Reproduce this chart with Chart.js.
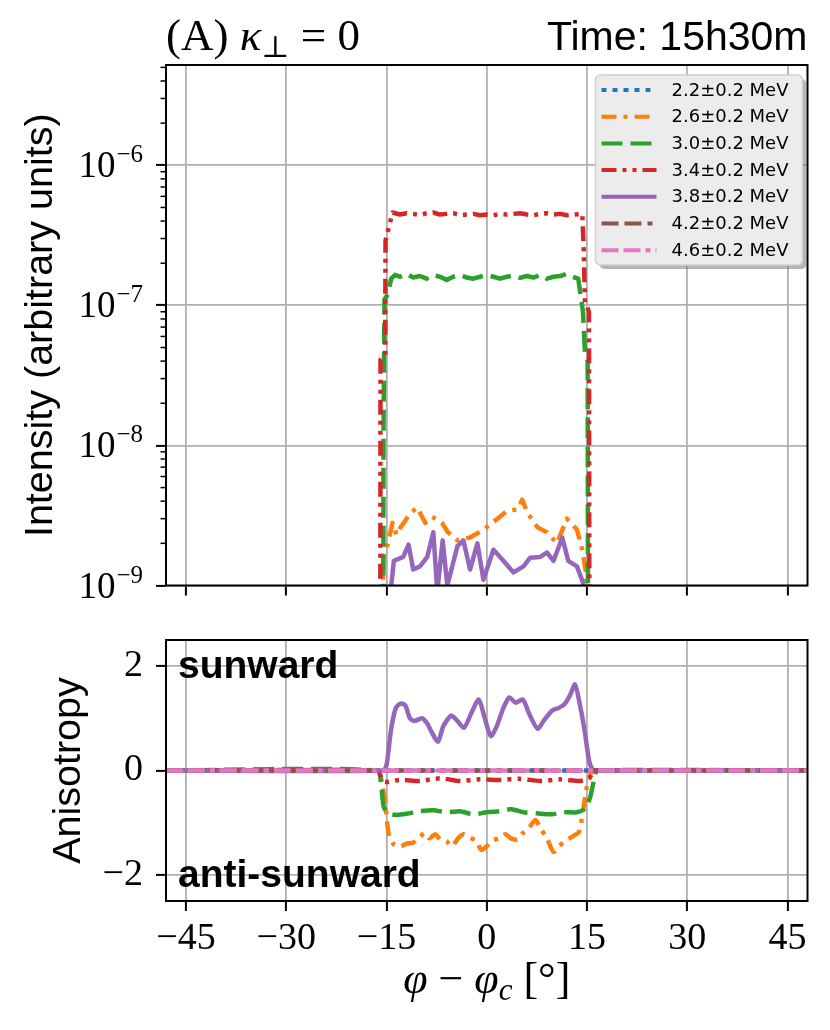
<!DOCTYPE html>
<html>
<head>
<meta charset="utf-8">
<script src="https://cdn.jsdelivr.net/npm/chart.js@4.4.1/dist/chart.umd.min.js"></script>
<style>
  html, body { margin: 0; padding: 0; background: #fff; }
  #wrap { position: relative; width: 830px; height: 1030px; }
  canvas { position: absolute; left: 0; }
  #top { top: 0; }
  #bottom { top: 600px; }
</style>
</head>
<body>
<div id="wrap">
  <canvas id="top" width="830" height="600"></canvas>
  <canvas id="bottom" width="830" height="430"></canvas>
</div>
<script>
// ---------------------------------------------------
// labels and ticks
const energyLabels = [ '2.2±0.2 MeV', '2.6±0.2 MeV', '3.0±0.2 MeV', '3.4±0.2 MeV', '3.8±0.2 MeV', '4.2±0.2 MeV', '4.6±0.2 MeV' ];
const phiTicks = [ -45, -30, -15, 0, 15, 30, 45 ];
const intensityTicks = [ 1e-9, 1e-8, 1e-7, 1e-6 ];
const intensityTickExps = [ '−9', '−8', '−7', '−6' ];
const minorMultipliers = [ 2, 3, 4, 5, 6, 7, 8, 9 ];
const anisoTicks = [ -2, 0, 2 ];

// ---------------------------------------------------
// top panel: intensity (only channels that rise above 1e-9)
const phiI26 = [ -15.7, -15.5, -14.8, -14.1, -13.5, -12.9, -12.2, -11.4, -10.4, -9.2, -8.2, -6.7, -5.8, -4.4, -2.5, -0.5, 1.6, 3.0, 4.6, 5.3, 6.1, 7.6, 9.0, 10.5, 12.0, 13.5, 14.3, 14.9, 15.1 ];
const intensity26 = [ 1e-11, 1.6e-9, 2.0e-9, 2.8e-9, 2.3e-9, 2.6e-9, 2.9e-9, 3.3e-9, 3.6e-9, 2.8e-9, 3.1e-9, 2.8e-9, 2.4e-9, 2.1e-9, 2.2e-9, 2.5e-9, 3.0e-9, 3.4e-9, 3.5e-9, 4.1e-9, 3.3e-9, 2.6e-9, 2.4e-9, 2.0e-9, 3.0e-9, 2.5e-9, 1.8e-9, 1.2e-9, 1e-11 ];

const phiI30 = [ -15.5, -15.45, -15.3, -14.8, -14.3, -13.7, -13, -12, -11, -10, -9, -8, -7, -6, -5, -4, -3, -2, -1, 0, 1, 2, 3, 4, 5, 6, 7, 8, 9, 10, 11, 12, 12.8, 13.7, 14.0, 14.4, 14.7, 15.1, 15.2 ];
const intensity30 = [ 1e-11, 1.3e-8, 1.1e-7, 1.2e-7, 1.55e-7, 1.65e-7, 1.6e-7, 1.68e-7, 1.58e-7, 1.62e-7, 1.55e-7, 1.65e-7, 1.6e-7, 1.52e-7, 1.6e-7, 1.65e-7, 1.58e-7, 1.55e-7, 1.6e-7, 1.65e-7, 1.6e-7, 1.55e-7, 1.6e-7, 1.63e-7, 1.57e-7, 1.62e-7, 1.58e-7, 1.65e-7, 1.55e-7, 1.6e-7, 1.62e-7, 1.68e-7, 1.6e-7, 1.55e-7, 1.22e-7, 9e-8, 4.6e-8, 4e-8, 1e-11 ];

const phiI34 = [ -15.95, -15.9, -15.2, -15.15, -14.1, -13, -12, -11, -10, -9, -8, -7, -6, -5, -4, -3, -2, -1, 0, 1, 2, 3, 4, 5, 6, 7, 8, 9, 10, 11, 12, 13, 14.3, 14.5, 14.7, 15.3, 15.4 ];
const intensity34 = [ 1e-11, 4.1e-8, 4.4e-8, 2.9e-7, 4.6e-7, 4.45e-7, 4.55e-7, 4.5e-7, 4.4e-7, 4.55e-7, 4.6e-7, 4.45e-7, 4.5e-7, 4.55e-7, 4.4e-7, 4.45e-7, 4.5e-7, 4.4e-7, 4.45e-7, 4.4e-7, 4.5e-7, 4.45e-7, 4.5e-7, 4.55e-7, 4.45e-7, 4.4e-7, 4.5e-7, 4.55e-7, 4.45e-7, 4.5e-7, 4.4e-7, 4.45e-7, 4.5e-7, 2.6e-7, 1.05e-7, 9e-8, 1e-11 ];

const phiI38 = [ -14.5, -13.9, -12.5, -11.7, -11.0, -10.0, -8.9, -8.0, -7.4, -6.6, -5.9, -4.4, -3.5, -2.5, -1.4, -0.5, 1.0, 2.5, 4.0, 5.5, 6.5, 8.0, 9.0, 10.0, 11.3, 12.2, 13.5, 14.4, 14.8 ];
const intensity38 = [ 8e-10, 1.5e-9, 1.6e-9, 1.96e-9, 1.3e-9, 1.37e-9, 1.6e-9, 2.4e-9, 9e-10, 2.1e-9, 1.0e-9, 1.9e-9, 2.1e-9, 1.3e-9, 2.0e-9, 1.1e-9, 1.8e-9, 1.5e-9, 1.24e-9, 1.37e-9, 1.58e-9, 1.6e-9, 1.72e-9, 1.5e-9, 2.2e-9, 1.5e-9, 1.37e-9, 1.05e-9, 7e-10 ];

// ---------------------------------------------------
// bottom panel: anisotropy
const phiAFlat = [ -48, 48 ];
const anisoFlat = [ 0, 0 ];

const phiA26 = [ -48, -16.3, -15.9, -15.2, -14.7, -13.9, -13, -12, -11, -10.2, -9.3, -8.6, -7.7, -7, -6, -5.2, -4.3, -3.5, -2.6, -1.6, -0.8, 0, 0.8, 1.8, 2.8, 3.6, 4.6, 5.4, 6.3, 7.3, 8, 9, 10, 10.8, 11.8, 13, 13.8, 14.5, 15, 15.6, 16, 48 ];
const aniso26 = [ 0, 0, -0.1, -0.6, -1.2, -1.42, -1.46, -1.4, -1.38, -1.3, -1.2, -1.3, -1.22, -1.32, -1.36, -1.45, -1.3, -1.22, -1.28, -1.35, -1.52, -1.45, -1.34, -1.3, -1.22, -1.3, -1.32, -1.2, -1.1, -0.95, -1.1, -1.3, -1.56, -1.45, -1.35, -1.25, -1.18, -0.7, -0.3, -0.05, 0, 0 ];

const phiA30 = [ -48, -16.4, -15.8, -15.4, -14.7, -13.5, -12, -10, -8, -6, -4, -2, 0, 2, 3.7, 5.5, 7.5, 9.7, 11.5, 13.5, 14.8, 15.5, 16.2, 16.6, 48 ];
const aniso30 = [ 0, 0, -0.3, -0.7, -0.82, -0.85, -0.83, -0.78, -0.76, -0.8, -0.78, -0.84, -0.8, -0.78, -0.74, -0.8, -0.82, -0.84, -0.8, -0.8, -0.72, -0.5, -0.1, 0, 0 ];

const phiA34 = [ -48, -16.3, -15.9, -15.3, -13, -10, -7, -4, -1, 2, 5, 8, 11, 14, 15.3, 15.8, 16.2, 48 ];
const aniso34 = [ 0, 0, -0.1, -0.22, -0.18, -0.2, -0.15, -0.2, -0.17, -0.18, -0.16, -0.2, -0.17, -0.2, -0.15, -0.05, 0, 0 ];

const phiA38 = [ -48, -15.5, -15, -14.3, -13.6, -12.9, -12.2, -11.5, -10.8, -9.7, -8.9, -8.3, -7.3, -6.5, -5.3, -4.4, -3.4, -2.3, -1.2, -0.4, 0.6, 1.5, 2.5, 3.4, 4.3, 5.4, 6.3, 7.6, 8.5, 9.8, 10.8, 11.7, 12.5, 13.2, 13.8, 14.6, 15.3, 15.8, 16.2, 48 ];
const aniso38 = [ 0, 0, 0.1, 0.8, 1.2, 1.28, 1.25, 1.0, 0.95, 1.0, 0.9, 0.75, 0.55, 0.85, 1.05, 0.95, 0.82, 1.1, 1.36, 1.05, 0.66, 0.85, 1.2, 1.4, 1.3, 1.36, 1.1, 0.8, 0.95, 1.15, 1.2, 1.28, 1.45, 1.65, 1.35, 0.8, 0.2, 0.02, 0, 0 ];

// ---------------------------------------------------
// styles
const seriesColors = [ '#1f77b4', '#ff7f0e', '#2ca02c', '#d62728', '#9467bd', '#8c564b', '#e377c2' ];
const seriesDashes = [ [ 5, 6 ], [ 15, 7, 4, 7 ], [ 21, 8 ], [ 15, 6, 4, 6, 4, 6 ], [], [ 17, 6, 17, 6, 5, 6 ], [ 17, 5, 17, 5, 5, 5 ] ];
const LW = 4.5;
const GRID = '#b0b0b0';
const SERIF = '"Liberation Serif", "DejaVu Serif", serif';
const SANS = '"Liberation Sans", "DejaVu Sans", sans-serif';

const pts = ( xs, ys ) => xs.map( ( x, i ) => ( { x: x, y: ys[ i ] } ) );

function makeDatasets( series ) {
    return series.map( ( s, i ) => ( {
        label: energyLabels[ i ],
        data: pts( s[ 0 ], s[ 1 ] ),
        borderColor: seriesColors[ i ],
        backgroundColor: seriesColors[ i ],
        borderDash: seriesDashes[ i ],
        borderWidth: LW,
        borderCapStyle: 'butt',
        borderJoinStyle: 'round',
        pointRadius: 0,
        fill: false,
        order: 7 - i
    } ) );
}

const topSeries = [
    [ [], [] ],
    [ phiI26, intensity26 ],
    [ phiI30, intensity30 ],
    [ phiI34, intensity34 ],
    [ phiI38, intensity38 ],
    [ [], [] ],
    [ [], [] ]
];
const bottomSeries = [
    [ phiAFlat, anisoFlat ],
    [ phiA26, aniso26 ],
    [ phiA30, aniso30 ],
    [ phiA34, aniso34 ],
    [ phiA38, aniso38 ],
    [ phiAFlat, anisoFlat ],
    [ phiAFlat, anisoFlat ]
];

// ---------------------------------------------------
// drawing helpers
function drawFrame( chart ) {
    const a = chart.chartArea, ctx = chart.ctx;
    ctx.save();
    ctx.strokeStyle = '#000';
    ctx.lineWidth = 2;
    ctx.strokeRect( a.left, a.top, a.right - a.left, a.bottom - a.top );
    ctx.restore();
}

function drawYTitle( chart, text, baseX ) {
    const a = chart.chartArea, ctx = chart.ctx;
    ctx.save();
    ctx.translate( baseX, ( a.top + a.bottom ) / 2 );
    ctx.rotate( -Math.PI / 2 );
    ctx.font = '39.5px ' + SANS;
    ctx.fillStyle = '#000';
    ctx.textAlign = 'center';
    ctx.textBaseline = 'alphabetic';
    ctx.fillText( text, 0, 0 );
    ctx.restore();
}

function roundRect( ctx, x, y, w, h, r ) {
    ctx.beginPath();
    ctx.moveTo( x + r, y );
    ctx.arcTo( x + w, y, x + w, y + h, r );
    ctx.arcTo( x + w, y + h, x, y + h, r );
    ctx.arcTo( x, y + h, x, y, r );
    ctx.arcTo( x, y, x + w, y, r );
    ctx.closePath();
}

function drawLegend( chart ) {
    const a = chart.chartArea, ctx = chart.ctx;
    const w = 207, h = 190;
    const x = a.right - 212, y = a.top + 10;
    ctx.save();
    roundRect( ctx, x + 4, y + 4, w, h, 5 );
    ctx.fillStyle = 'rgba(120,120,120,0.55)';
    ctx.fill();
    roundRect( ctx, x, y, w, h, 5 );
    ctx.fillStyle = '#ececec';
    ctx.fill();
    ctx.strokeStyle = '#d0d0d0';
    ctx.lineWidth = 1.5;
    ctx.stroke();
    chart.data.datasets.forEach( ( ds, i ) => {
        const ry = y + 15 + i * 26.7;
        ctx.beginPath();
        ctx.setLineDash( ds.borderDash );
        ctx.lineCap = 'butt';
        ctx.strokeStyle = ds.borderColor;
        ctx.lineWidth = 4;
        ctx.moveTo( x + 6, ry );
        ctx.lineTo( x + 61, ry );
        ctx.stroke();
        ctx.setLineDash( [] );
        ctx.font = '18px "DejaVu Sans", sans-serif';
        ctx.fillStyle = '#000';
        ctx.textBaseline = 'middle';
        ctx.fillText( ds.label, x + 76, ry + 1 );
    } );
    ctx.restore();
}

// ---------------------------------------------------
const topDecor = {
    id: 'topDecor',
    afterDraw( chart ) {
        const ctx = chart.ctx, a = chart.chartArea, ys = chart.scales.y;
        drawFrame( chart );
        // minor ticks of the log axis
        ctx.save();
        ctx.strokeStyle = '#000';
        ctx.lineWidth = 1.5;
        intensityTicks.forEach( ( d ) => {
            minorMultipliers.forEach( ( m ) => {
                const v = d * m;
                if ( v > ys.max ) return;
                const py = ys.getPixelForValue( v );
                ctx.beginPath();
                ctx.moveTo( a.left - 5.5, py );
                ctx.lineTo( a.left, py );
                ctx.stroke();
            } );
        } );
        // tick labels 10^n
        ctx.fillStyle = '#000';
        ctx.textAlign = 'right';
        ctx.textBaseline = 'alphabetic';
        intensityTicks.forEach( ( v, i ) => {
            const py = ys.getPixelForValue( v );
            const right = a.left - 23;
            ctx.font = '25px ' + SERIF;
            const ew = ctx.measureText( intensityTickExps[ i ] ).width;
            ctx.fillText( intensityTickExps[ i ], right, py - 3 );
            ctx.font = '37px ' + SERIF;
            ctx.fillText( '10', right - ew - 1, py + 12 );
        } );
        ctx.restore();
        drawYTitle( chart, 'Intensity (arbitrary units)', 52 );
        // panel title
        ctx.save();
        ctx.fillStyle = '#000';
        ctx.textBaseline = 'alphabetic';
        ctx.textAlign = 'left';
        let tx = a.left;
        ctx.font = '45px ' + SERIF;
        ctx.fillText( '(A) ', tx, 50 );
        tx += ctx.measureText( '(A) ' ).width;
        ctx.font = 'italic 45px ' + SERIF;
        ctx.fillText( 'κ', tx, 50 );
        tx += ctx.measureText( 'κ' ).width;
        ctx.font = '30px "DejaVu Serif", serif';
        ctx.fillText( '⊥', tx, 57 );
        tx += ctx.measureText( '⊥' ).width;
        ctx.font = '45px ' + SERIF;
        ctx.fillText( ' = 0', tx, 50 );
        ctx.font = '41px ' + SANS;
        ctx.textAlign = 'right';
        ctx.fillText( 'Time: 15h30m', a.right, 50 );
        ctx.restore();
        drawLegend( chart );
    }
};

const bottomDecor = {
    id: 'bottomDecor',
    afterDraw( chart ) {
        const ctx = chart.ctx, a = chart.chartArea;
        drawFrame( chart );
        drawYTitle( chart, 'Anisotropy', 80 );
        ctx.save();
        ctx.fillStyle = '#000';
        ctx.font = 'bold 39px ' + SANS;
        ctx.textAlign = 'left';
        ctx.textBaseline = 'alphabetic';
        ctx.fillText( 'sunward', a.left + 12, a.top + 38 );
        ctx.fillText( 'anti-sunward', a.left + 12, a.bottom - 14 );
        // x axis title: phi - phi_c [deg]
        const parts = [
            [ 'φ', 'italic 44px ' + SERIF, 0 ],
            [ ' − ', '44px ' + SERIF, 0 ],
            [ 'φ', 'italic 44px ' + SERIF, 0 ],
            [ 'c', 'italic 31px ' + SERIF, 7 ],
            [ ' [°]', '44px ' + SERIF, 0 ]
        ];
        let total = 0;
        parts.forEach( ( p ) => { ctx.font = p[ 1 ]; total += ctx.measureText( p[ 0 ] ).width; } );
        let tx = ( a.left + a.right ) / 2 - total / 2;
        const by = 393;
        parts.forEach( ( p ) => {
            ctx.font = p[ 1 ];
            ctx.fillText( p[ 0 ], tx, by + p[ 2 ] );
            tx += ctx.measureText( p[ 0 ] ).width;
        } );
        ctx.restore();
    }
};

// ---------------------------------------------------
const gridOpts = {
    color: GRID,
    lineWidth: 1.8,
    drawTicks: true,
    tickLength: 10,
    tickColor: '#000',
    tickWidth: 2
};

window.addEventListener( 'load', function () {
    Chart.defaults.font.family = SERIF;
    Chart.defaults.color = '#000';

    new Chart( document.getElementById( 'top' ), {
        type: 'line',
        data: { datasets: makeDatasets( topSeries ) },
        options: {
            responsive: false,
            animation: false,
            layout: { padding: { top: 65, right: 22.5, left: 0, bottom: 0 } },
            plugins: { legend: { display: false }, tooltip: { enabled: false } },
            scales: {
                x: {
                    type: 'linear', min: -48, max: 48,
                    afterBuildTicks: ( s ) => { s.ticks = phiTicks.map( ( v ) => ( { value: v } ) ); },
                    afterFit: ( s ) => { s.height = 14.5; },
                    ticks: { display: false },
                    grid: gridOpts,
                    border: { display: false }
                },
                y: {
                    type: 'logarithmic', min: 1e-9, max: 5.2e-6,
                    afterBuildTicks: ( s ) => { s.ticks = intensityTicks.map( ( v ) => ( { value: v } ) ); },
                    afterFit: ( s ) => { s.width = 166; },
                    ticks: { display: false },
                    grid: gridOpts,
                    border: { display: false }
                }
            }
        },
        plugins: [ topDecor ]
    } );

    new Chart( document.getElementById( 'bottom' ), {
        type: 'line',
        data: { datasets: makeDatasets( bottomSeries ) },
        options: {
            responsive: false,
            animation: false,
            elements: { line: { tension: 0.25 } },
            layout: { padding: { top: 40, right: 22.5, left: 0, bottom: 0 } },
            plugins: { legend: { display: false }, tooltip: { enabled: false } },
            scales: {
                x: {
                    type: 'linear', min: -48, max: 48,
                    afterBuildTicks: ( s ) => { s.ticks = phiTicks.map( ( v ) => ( { value: v } ) ); },
                    afterFit: ( s ) => { s.height = 129; },
                    ticks: {
                        font: { size: 38, family: SERIF },
                        padding: 5,
                        maxRotation: 0,
                        autoSkip: false,
                        callback: ( v ) => String( v ).replace( '-', '−' )
                    },
                    grid: gridOpts,
                    border: { display: false }
                },
                y: {
                    type: 'linear', min: -2.5, max: 2.5,
                    afterBuildTicks: ( s ) => { s.ticks = anisoTicks.map( ( v ) => ( { value: v } ) ); },
                    afterFit: ( s ) => { s.width = 166; },
                    ticks: {
                        font: { size: 38, family: SERIF },
                        padding: 13,
                        callback: ( v ) => String( v ).replace( '-', '−' )
                    },
                    grid: gridOpts,
                    border: { display: false }
                }
            }
        },
        plugins: [ bottomDecor ]
    } );
}, false );
</script>
</body>
</html>
